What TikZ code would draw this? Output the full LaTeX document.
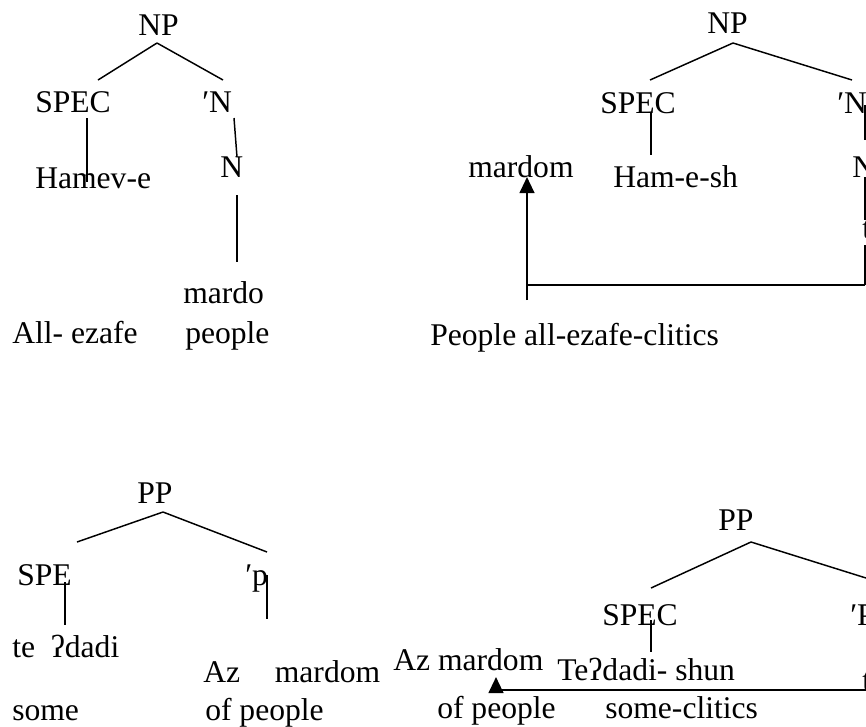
\documentclass[tikz,border=0pt]{standalone}
\usepackage{fontspec}
\setmainfont{Liberation Serif}
\usetikzlibrary{arrows.meta}

\tikzset{
  word/.style={inner sep=0pt,anchor=base west,font=\fontsize{23.7}{28}\selectfont},
  branch/.style={line width=1.1pt},
  move/.style={line width=1.6pt,-{Triangle[length=12pt,width=11pt]}}
}

\begin{document}
\begin{tikzpicture}[x=0.75pt,y=-0.75pt]
  \clip (0,0) rectangle (866,726);

  % NP: Hamev-e mardo
  \draw
    (138,35) node[word] (np1) {NP}
    (35,112) node[word] (spec1) {SPEC}
    (202,112) node[word] (nbar1) {′N}
    (35,188) node[word] (hamev) {Hamev-e}
    (220,177) node[word] (n1) {N}
    (183,303) node[word] (mardo) {mardo}
    (12,343) node[word] (allez) {All- ezafe}
    (185,343) node[word] (people1) {people}
    (157,43) coordinate (np1t)
    (98,80) coordinate (np1l)
    (223,80) coordinate (np1r)
    (87,118) coordinate (spec1b)
    (87,182) coordinate (hamevt)
    (234,118) coordinate (nbar1b)
    (237,157) coordinate (n1t)
    (237,195) coordinate (n1b)
    (237,262) coordinate (mardot);
  \begin{scope}[branch]
    \draw (np1t) to (np1l);
    \draw (np1t) to (np1r);
    \draw (spec1b) to (hamevt);
    \draw (nbar1b) to (n1t);
    \draw (n1b) to (mardot);
  \end{scope}

  % NP: mardom Ham-e-sh, with the noun moved out
  \draw
    (707,33) node[word] (np2) {NP}
    (600,113) node[word] (spec2) {SPEC}
    (837,113) node[word] (nbar2) {′N}
    (468,177) node[word] (mardom1) {mardom}
    (613,187) node[word] (hamesh) {Ham-e-sh}
    (852,177) node[word] (n2) {N}
    (862,238) node[word] (t1) {t}
    (430,345) node[word] (pplclit) {People all-ezafe-clitics}
    (733,43) coordinate (np2t)
    (650,80) coordinate (np2l)
    (852,80) coordinate (np2r)
    (651,113) coordinate (spec2b)
    (651,155) coordinate (hamesht)
    (865,105) coordinate (nbar2b)
    (865,140) coordinate (n2t)
    (865,177) coordinate (n2b)
    (865,220) coordinate (t1t)
    (865,245) coordinate (t1b)
    (865,285) coordinate (trace1)
    (527,285) coordinate (turn1)
    (527,300) coordinate (foot1)
    (527,177) coordinate (land1);
  \begin{scope}[branch]
    \draw (np2t) to (np2l);
    \draw (np2t) to (np2r);
    \draw (spec2b) to (hamesht);
    \draw (nbar2b) to (n2t);
    \draw (n2b) to (t1t);
    \draw (t1b) to (trace1);
    \draw (trace1) to (turn1);
  \end{scope}
  \draw[move] (foot1) to (land1);

  % PP: te?dadi az mardom
  \draw
    (137,503) node[word] (pp1) {PP}
    (17,585) node[word] (spe) {SPE}
    (245,585) node[word] (pbar1) {′p}
    (12,657) node[word] (tedadi) {te\ \ ʔdadi}
    (203,682) node[word] (azmardom1) {Az\hspace{1.1em}mardom}
    (12,720) node[word] (some) {some}
    (205,720) node[word] (ofppl1) {of people}
    (163,512) coordinate (pp1t)
    (77,542) coordinate (pp1l)
    (267,552) coordinate (pp1r)
    (65,582) coordinate (speb)
    (65,625) coordinate (tedadit)
    (267,575) coordinate (pbar1b)
    (267,619) coordinate (azt);
  \begin{scope}[branch]
    \draw (pp1t) to (pp1l);
    \draw (pp1t) to (pp1r);
    \draw (speb) to (tedadit);
    \draw (pbar1b) to (azt);
  \end{scope}

  % PP: az mardom moved before Te?dadi-shun
  \draw
    (718,530) node[word] (pp2) {PP}
    (602,625) node[word] (spec4) {SPEC}
    (850,625) node[word] (pbar2) {′P}
    (393,670) node[word] (azmardom2) {Az mardom}
    (557,680) node[word] (tedadishun) {Teʔdadi- shun}
    (862,690) node[word] (t2) {t}
    (437,718) node[word] (ofppl2) {of people}
    (605,718) node[word] (someclit) {some-clitics}
    (751,542) coordinate (pp2t)
    (651,588) coordinate (pp2l)
    (866,578) coordinate (pp2r)
    (651,620) coordinate (spec4b)
    (651,652) coordinate (shunt)
    (866,690) coordinate (trace2)
    (496,690) coordinate (turn2)
    (496,677) coordinate (land2);
  \begin{scope}[branch]
    \draw (pp2t) to (pp2l);
    \draw (pp2t) to (pp2r);
    \draw (spec4b) to (shunt);
    \draw (trace2) to (turn2);
  \end{scope}
  \draw[move] (turn2) to (land2);
\end{tikzpicture}
\end{document}
